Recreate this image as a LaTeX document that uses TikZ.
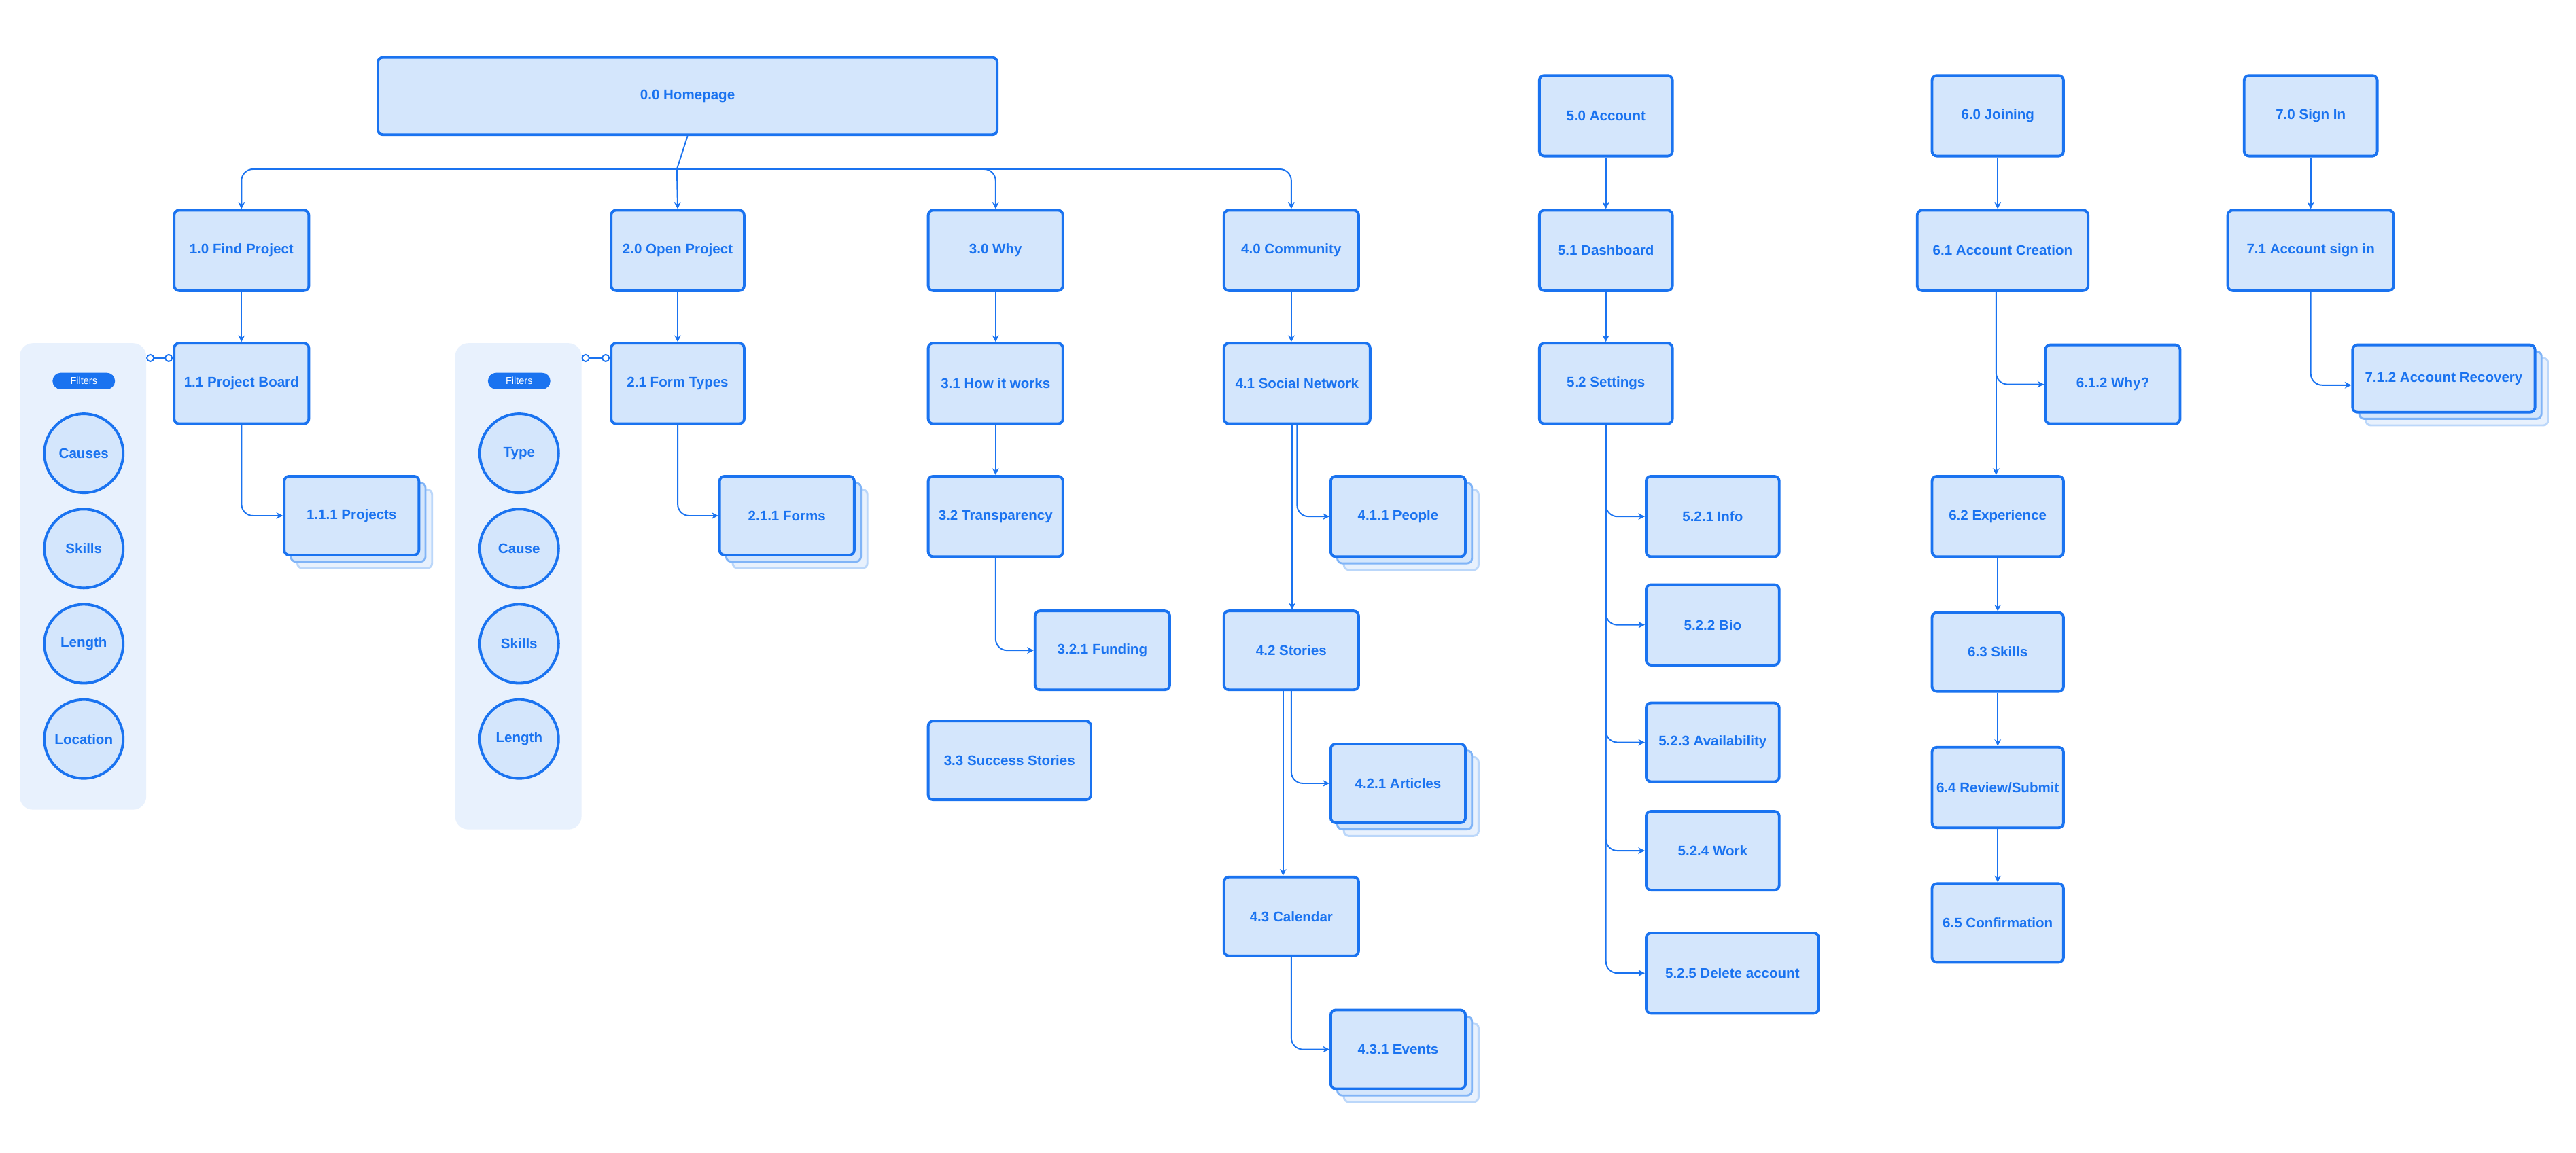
\documentclass[tikz,border=0pt]{standalone}
\usepackage{fontspec}
\setmainfont{Liberation Sans}
\usetikzlibrary{arrows.meta,calc}
\definecolor{bl}{HTML}{1A73F0}
\definecolor{bf}{HTML}{D4E6FC}
\definecolor{pf}{HTML}{E8F1FD}
\definecolor{s1}{HTML}{80B4F7}
\definecolor{s2}{HTML}{BBD7FA}
\tikzset{
 box/.style={draw=bl,fill=bf,line width=1.6pt,rounded corners=3pt,font=\fontsize{8.5}{10}\bfseries,text=bl,inner sep=0pt},
 conn/.style={draw=bl,line width=0.8pt,rounded corners=7pt,-{Stealth[length=4pt,width=4pt]}},
 circ/.style={draw=bl,fill=bf,line width=1.6pt,circle,minimum size=48pt,font=\fontsize{8.5}{10}\bfseries,text=bl,inner sep=0pt},
 panel/.style={fill=pf,rounded corners=8pt},
 pill/.style={fill=bl,rounded corners=5pt,text=white,font=\fontsize{6}{7}\selectfont,minimum width=38pt,minimum height=10pt,inner sep=0pt},
 link/.style={draw=bl,line width=0.8pt,{Circle[open,fill=white,length=5pt,width=5pt]}-{Circle[open,fill=white,length=5pt,width=5pt]}}
}
\newcommand\bx[6]{\node[box,minimum width={(#4-#2)*1pt},minimum height={(#5-#3)*1pt}] (#1) at ({(#2+#4)/2},{-(#3+#5)/2}) {#6};}
\newcommand\stk[6]{%
 \draw[draw=s2,fill=pf,line width=1.2pt,rounded corners=3pt] (#2+8,-#3-8) rectangle (#4+8,-#5-8);
 \draw[draw=s1,fill=bf,line width=1.2pt,rounded corners=3pt] (#2+4,-#3-4) rectangle (#4+4,-#5-4);
 \bx{#1}{#2}{#3}{#4}{#5}{#6}}
\begin{document}
\begin{tikzpicture}[x=1pt,y=1pt]
\useasboundingbox[fill=white] (0,0) rectangle (1568,-702);
% panels
\fill[panel] (12,-209) rectangle (89,-493);
\fill[panel] (277,-209) rectangle (354,-505);
\node[pill] (fl1) at (51,-232) {Filters};
\node[pill] (fl2) at (316,-232) {Filters};
\foreach \n/\t [count=\i] in {Causes,Skills,Length,Location}{
 \node[circ] (ca\i) at (51,{-276-58*(\i-1)}) {\t};}
\foreach \n/\t [count=\i] in {Type,Cause,Skills,Length}{
 \node[circ] (cb\i) at (316,{-276-58*(\i-1)}) {\t};}
% boxes
\bx{home}{230}{35}{607}{82}{0.0 Homepage}
\bx{f1}{106}{128}{188}{177}{1.0 Find Project}
\bx{o2}{372}{128}{453}{177}{2.0 Open Project}
\bx{w3}{565}{128}{647}{177}{3.0 Why}
\bx{c4}{745}{128}{827}{177}{4.0 Community}
\bx{a5}{937}{46}{1018}{95}{5.0 Account}
\bx{j6}{1176}{46}{1256}{95}{6.0 Joining}
\bx{s7}{1366}{46}{1447}{95}{7.0 Sign In}
\bx{pb}{106}{209}{188}{258}{1.1 Project Board}
\bx{ft}{372}{209}{453}{258}{2.1 Form Types}
\bx{hw}{565}{209}{647}{258}{3.1 How it works}
\bx{sn}{745}{209}{834}{258}{4.1 Social Network}
\bx{db}{937}{128}{1018}{177}{5.1 Dashboard}
\bx{ac}{1167}{128}{1271}{177}{6.1 Account Creation}
\bx{si}{1356}{128}{1457}{177}{7.1 Account sign in}
\bx{st}{937}{209}{1018}{258}{5.2 Settings}
\stk{pr}{173}{290}{255}{338}{1.1.1 Projects}
\stk{fo}{438}{290}{520}{338}{2.1.1 Forms}
\bx{tr}{565}{290}{647}{339}{3.2 Transparency}
\bx{fu}{630}{372}{712}{420}{3.2.1 Funding}
\bx{ss}{565}{439}{664}{487}{3.3 Success Stories}
\stk{pe}{810}{290}{892}{339}{4.1.1 People}
\bx{sto}{745}{372}{827}{420}{4.2 Stories}
\stk{ar}{810}{453}{892}{501}{4.2.1 Articles}
\bx{cal}{745}{534}{827}{582}{4.3 Calendar}
\stk{ev}{810}{615}{892}{663}{4.3.1 Events}
\bx{in}{1002}{290}{1083}{339}{5.2.1 Info}
\bx{bio}{1002}{356}{1083}{405}{5.2.2 Bio}
\bx{av}{1002}{428}{1083}{476}{5.2.3 Availability}
\bx{wk}{1002}{494}{1083}{542}{5.2.4 Work}
\bx{del}{1002}{568}{1107}{617}{5.2.5 Delete account}
\bx{why}{1245}{210}{1327}{258}{6.1.2 Why?}
\bx{ex}{1176}{290}{1256}{339}{6.2 Experience}
\bx{sk}{1176}{373}{1256}{421}{6.3 Skills}
\bx{rv}{1176}{455}{1256}{504}{6.4 Review/Submit}
\bx{cf}{1176}{538}{1256}{586}{6.5 Confirmation}
\stk{rec}{1432}{210}{1543}{251}{7.1.2 Account Recovery}
% connectors
\coordinate (bus) at (412,-103);
\draw[draw=bl,line width=0.8pt] (home.south) -- (bus);
\draw[conn] (bus) -| (f1.north);
\draw[conn] (bus) -- (o2.north);
\draw[conn] (bus) -| (w3.north);
\draw[conn] (bus) -| (c4.north);
\draw[conn] (f1) -- (pb);
\draw[conn] (o2) -- (ft);
\draw[conn] (w3) -- (hw);
\draw[conn] (c4) -- (c4|-sn.north);
\draw[conn] (a5) -- (db);
\draw[conn] (db) -- (st);
\draw[conn] (j6) -- (j6|-ac.north);
\draw[conn] (s7) -- (s7|-si.north);
\draw[conn] (pb.south) |- (pr.west);
\draw[conn] (ft.south) |- (fo.west);
\draw[conn] (hw) -- (tr);
\draw[conn] (tr.south) |- (fu.west);
\draw[conn] ([xshift=-3pt]sn.south) -- ([xshift=-3pt]sn.south|-sto.north);
\draw[conn] (sn.south) |- (pe.west);
\draw[conn] ([xshift=-5pt]sto.south) -- ([xshift=-5pt]sto.south|-cal.north);
\draw[conn] (sto.south) |- (ar.west);
\draw[conn] (cal.south) |- (ev.west);
\foreach \t in {in,bio,av,wk,del}{\draw[conn] (st.south) |- (\t.west);}
\draw[conn] ([xshift=-4pt]ac.south) |- (why.west);
\draw[conn] ([xshift=-4pt]ac.south) -- ([xshift=-4pt]ac.south|-ex.north);
\draw[conn] (ex) -- (sk);
\draw[conn] (sk) -- (rv);
\draw[conn] (rv) -- (cf);
\draw[conn] (si.south) |- ([yshift=-4pt]rec.west);
\draw[link] (89,-218) -- (pb.west|-0,-218);
\draw[link] (354,-218) -- (ft.west|-0,-218);
\end{tikzpicture}
\end{document}
